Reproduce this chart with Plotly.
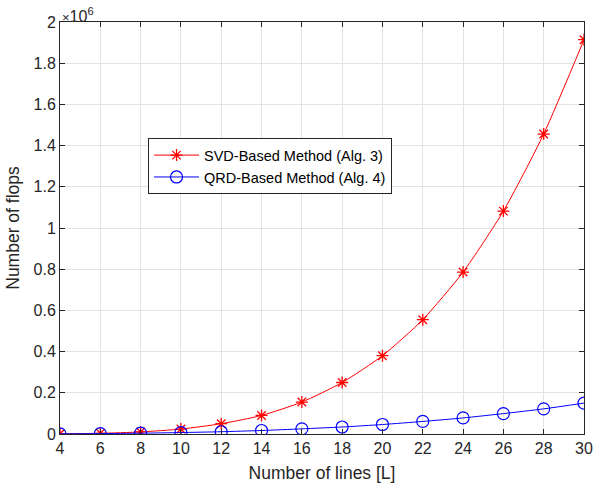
import plotly.graph_objects as go

L = [4, 6, 8, 10, 12, 14, 16, 18, 20, 22, 24, 26, 28, 30]
svd_flops = [1000, 3500, 10000, 24000, 50000, 90000, 155000, 250000, 380000,
             555000, 786000, 1082000, 1456000, 1914000]
qrd_flops = [500, 1800, 4000, 7000, 11000, 17000, 25000, 34000, 46000,
             61000, 78000, 99000, 122000, 150000]

yticks = [0, 0.2e6, 0.4e6, 0.6e6, 0.8e6, 1.0e6, 1.2e6, 1.4e6, 1.6e6, 1.8e6, 2.0e6]
yticklabels = ["0", "0.2", "0.4", "0.6", "0.8", "1", "1.2", "1.4", "1.6", "1.8", "2"]
xticks = L

font_family = "Liberation Sans, Arial, Helvetica, sans-serif"
axis_color = "#262626"

fig = go.Figure()
fig.add_trace(go.Scatter(
    x=L, y=svd_flops, mode="lines+markers", name="SVD-Based Method (Alg. 3)",
    line=dict(color="#ff0000", width=1, shape="spline", smoothing=0.6),
    marker=dict(symbol="asterisk-open", size=10, color="#ff0000",
                line=dict(color="#ff0000", width=1.3)),
))
fig.add_trace(go.Scatter(
    x=L, y=qrd_flops, mode="lines+markers", name="QRD-Based Method (Alg. 4)",
    line=dict(color="#0000ff", width=1, shape="spline", smoothing=0.6),
    marker=dict(symbol="circle-open", size=12, color="#0000ff",
                line=dict(color="#0000ff", width=1.2)),
))

fig.update_layout(
    width=594, height=491,
    margin=dict(l=60, r=10, t=22, b=57, autoexpand=False),
    paper_bgcolor="white", plot_bgcolor="white",
    font=dict(family=font_family, size=16, color=axis_color),
    showlegend=True,
    legend=dict(
        x=0.168, y=0.718, xanchor="left", yanchor="top",
        bgcolor="white", bordercolor=axis_color, borderwidth=1,
        font=dict(size=14.5, color="#000000"),
        itemwidth=45, tracegroupgap=0,
    ),
    xaxis=dict(
        range=[4, 30], tickvals=xticks, ticks="inside", ticklen=5,
        tickcolor=axis_color, showline=True, linecolor=axis_color, linewidth=1,
        mirror="ticks", showgrid=True, gridcolor="#e3e3e3", gridwidth=1,
        zeroline=False, automargin=False,
        title=dict(text="Number of lines [L]", standoff=10,
                   font=dict(size=17.5)),
        tickfont=dict(size=16),
    ),
    yaxis=dict(
        range=[0, 2.0e6], tickvals=yticks, ticktext=yticklabels, ticks="inside",
        ticklen=5, tickcolor=axis_color, showline=True, linecolor=axis_color,
        linewidth=1, mirror="ticks", showgrid=True, gridcolor="#e3e3e3",
        gridwidth=1, zeroline=False, automargin=False,
        title=dict(text="Number of flops", standoff=9, font=dict(size=17.5)),
        tickfont=dict(size=16),
    ),
    annotations=[dict(
        text="<span style='font-size:13px'>×</span>10<sup>6</sup>",
        xref="paper", yref="paper", x=0.0, y=1.0,
        xanchor="left", yanchor="bottom", showarrow=False,
        font=dict(size=16, color=axis_color), yshift=-5,
    )],
)

fig.write_html("out.html",
               config={"displayModeBar": False},
               post_script="document.body.style.margin='0';"
                           "document.body.style.overflow='hidden';")
